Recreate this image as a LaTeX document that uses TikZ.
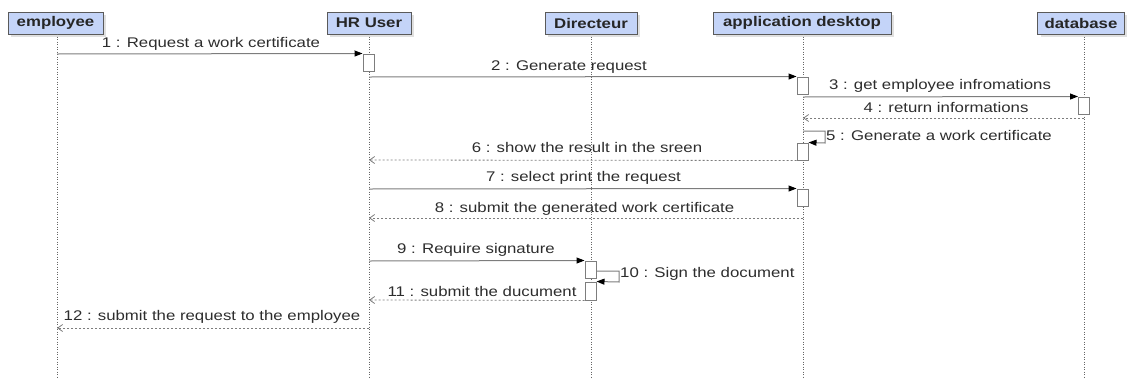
\documentclass[tikz,border=0pt]{standalone}
\usepackage{fontspec}
\setmainfont{Liberation Sans}[FakeStretch=1.2]
\usetikzlibrary{arrows.meta,shadows}
\definecolor{hdr}{RGB}{196,212,248}
\definecolor{hdrline}{RGB}{90,90,90}
\definecolor{msgline}{RGB}{125,125,125}
\definecolor{txt}{RGB}{45,45,45}
\begin{document}
\begin{tikzpicture}[x=1pt,y=-1pt,
  head/.style={draw=hdrline, line width=1pt, fill=hdr, minimum height=22pt, inner sep=0pt,
    font=\bfseries\fontsize{14}{16}\selectfont, text=black!85,
    drop shadow={shadow xshift=3pt,shadow yshift=-3pt,fill=black!12,opacity=1}},
  act/.style={draw=msgline, fill=white, line width=1pt, minimum width=11pt, inner sep=0pt},
  msg/.style={draw=msgline, line width=1pt, -{Triangle[length=8pt,width=6pt,color=black]}},
  ret/.style={draw=msgline, line width=0.8pt, dash pattern=on 2pt off 2pt, -{Straight Barb[length=5pt,width=7pt]}},
  life/.style={draw=black!60, line width=0.9pt, dash pattern=on 1pt off 1.5pt},
  lbl/.style={font=\fontsize{14}{16}\selectfont, text=txt, inner sep=0pt, anchor=base}
]
\useasboundingbox (0,0) rectangle (1127,378);

% headers
\node[head, minimum width=95pt]  (emp) at (55.5,23) {employee};
\node[head, minimum width=84pt]  (hr)  at (369,23)  {HR User};
\node[head, minimum width=92pt]  (dir) at (591,23)  {Directeur};
\node[head, minimum width=178pt] (app) at (802,23)  {application desktop};
\node[head, minimum width=87pt]  (db)  at (1081,23) {database};

% lifelines
\coordinate (empT) at (57,34);   \coordinate (empB) at (57,378);
\coordinate (hrT)  at (369,34);  \coordinate (hrB)  at (369,378);
\coordinate (dirT) at (591,34);  \coordinate (dirB) at (591,378);
\coordinate (appT) at (803,34);  \coordinate (appB) at (803,378);
\coordinate (dbT)  at (1084,34); \coordinate (dbB)  at (1084,378);
\draw[life] (empT) -- (empB);
\draw[life] (hrT) -- (hrB);
\draw[life] (dirT) -- (dirB);
\draw[life] (appT) -- (appB);
\draw[life] (dbT) -- (dbB);

% activations
\node[act, minimum height=17pt] (a1) at (368.5,62.5) {};
\node[act, minimum height=17pt] (a2) at (802.5,85.5) {};
\node[act, minimum height=17pt] (a3) at (1084,105.5) {};
\node[act, minimum height=17pt] (a4) at (802.5,151.5) {};
\node[act, minimum height=17pt] (a5) at (802.5,197.5) {};
\node[act, minimum height=17pt] (a6) at (590.5,269.5) {};
\node[act, minimum height=18pt] (a7) at (590.5,291) {};

% message end points
\coordinate (m1s) at (57,54);
\coordinate (m2s) at (369,77);
\coordinate (m3s) at (803,97);
\coordinate (m4s) at (1084,118); \coordinate (m4e) at (803,118);
\coordinate (m5s) at (803,131);  \coordinate (m5a) at (825,131); \coordinate (m5b) at (825,143);
\coordinate (m6e) at (369,160);
\coordinate (m7s) at (369,189);
\coordinate (m8s) at (803,218);  \coordinate (m8e) at (369,218);
\coordinate (m9s) at (369,261);
\coordinate (m10s) at (596,271); \coordinate (m10a) at (619,271); \coordinate (m10b) at (619,282);
\coordinate (m11e) at (369,300);
\coordinate (m12s) at (369,328); \coordinate (m12e) at (57,328);

% messages
\draw[msg] (m1s) -- (a1.north west);
\draw[msg] (m2s) -- (a2.north west);
\draw[msg] (m3s) -- (a3.north west);
\draw[ret] (m4s) -- (m4e);
\draw[msg] (m5s) -- (m5a) -- (m5b) -- (a4.north east);
\draw[ret] (a4.south west) -- (m6e);
\draw[msg] (m7s) -- (a5.north west);
\draw[ret] (m8s) -- (m8e);
\draw[msg] (m9s) -- (a6.north west);
\draw[msg] (m10s) -- (m10a) -- (m10b) -- (a7.north east);
\draw[ret] (a7.south west) -- (m11e);
\draw[ret] (m12s) -- (m12e);

% labels
\node[lbl] (l1)  at (211,47)   {1 : Request a work certificate};
\node[lbl] (l2)  at (569,70)   {2 : Generate request};
\node[lbl] (l3)  at (940,89)   {3 : get employee infromations};
\node[lbl] (l4)  at (946,112)  {4 : return informations};
\node[lbl, anchor=base west] (l5) at (826,140) {5 : Generate a work certificate};
\node[lbl] (l6)  at (587,152)  {6 : show the result in the sreen};
\node[lbl] (l7)  at (583.5,181) {7 : select print the request};
\node[lbl] (l8)  at (584.5,212) {8 : submit the generated work certificate};
\node[lbl] (l9)  at (476,253)  {9 : Require signature};
\node[lbl, anchor=base west] (l10) at (620,277) {10 : Sign the document};
\node[lbl] (l11) at (482,296)  {11 : submit the ducument};
\node[lbl] (l12) at (212,320)  {12 : submit the request to the employee};
\end{tikzpicture}
\end{document}
